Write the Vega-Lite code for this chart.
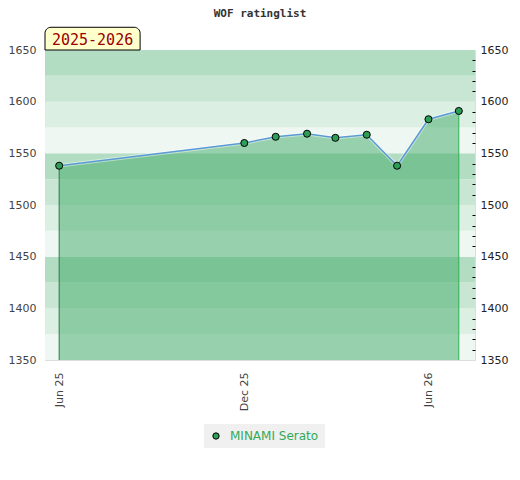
{
  "$schema": "https://vega.github.io/schema/vega-lite/v6.json",
  "autosize": "none",
  "width": 430,
  "height": 310,
  "padding": {"left": 45, "top": 50, "right": 45, "bottom": 120},
  "background": "#ffffff",
  "title": {
    "text": "WOF ratinglist",
    "font": "DejaVu Sans Mono",
    "fontSize": 11,
    "fontWeight": "bold",
    "color": "#333333",
    "anchor": "middle",
    "frame": "group",
    "baseline": "alphabetic",
    "offset": 10,
    "dy": 11
  },
  "config": {
    "view": {"stroke": "#dddddd", "strokeWidth": 1},
    "axis": {"labelFont": "DejaVu Sans", "labelFontSize": 11, "grid": false, "domain": false, "title": null}
  },
  "datasets": {
    "ratings": [
      {"date": "2025-06-01", "rating": 1538, "player": "MINAMI Serato"},
      {"date": "2025-12-01", "rating": 1560, "player": "MINAMI Serato"},
      {"date": "2026-01-01", "rating": 1566, "player": "MINAMI Serato"},
      {"date": "2026-02-01", "rating": 1569, "player": "MINAMI Serato"},
      {"date": "2026-03-01", "rating": 1565, "player": "MINAMI Serato"},
      {"date": "2026-04-01", "rating": 1568, "player": "MINAMI Serato"},
      {"date": "2026-05-01", "rating": 1538, "player": "MINAMI Serato"},
      {"date": "2026-06-01", "rating": 1583, "player": "MINAMI Serato"},
      {"date": "2026-07-01", "rating": 1591, "player": "MINAMI Serato"}
    ],
    "bands": [
      {"lo": 1350, "hi": 1375, "shade": 0},
      {"lo": 1375, "hi": 1400, "shade": 1},
      {"lo": 1400, "hi": 1425, "shade": 2},
      {"lo": 1425, "hi": 1450, "shade": 3},
      {"lo": 1450, "hi": 1475, "shade": 0},
      {"lo": 1475, "hi": 1500, "shade": 1},
      {"lo": 1500, "hi": 1525, "shade": 2},
      {"lo": 1525, "hi": 1550, "shade": 3},
      {"lo": 1550, "hi": 1575, "shade": 0},
      {"lo": 1575, "hi": 1600, "shade": 1},
      {"lo": 1600, "hi": 1625, "shade": 2},
      {"lo": 1625, "hi": 1650, "shade": 3}
    ],
    "season": [
      {"label": "2025-2026"}
    ]
  },
  "layer": [
    {
      "data": {"name": "bands"},
      "mark": {"type": "rect"},
      "encoding": {
        "y": {
          "field": "lo",
          "type": "quantitative",
          "scale": {"domain": [1350, 1650], "zero": false, "nice": false},
          "axis": {
            "orient": "right",
            "values": [1350, 1360, 1370, 1380, 1390, 1400, 1410, 1420, 1430, 1440, 1450, 1460, 1470, 1480, 1490, 1500, 1510, 1520, 1530, 1540, 1550, 1560, 1570, 1580, 1590, 1600, 1610, 1620, 1630, 1640, 1650],
            "format": "d",
            "labelExpr": "datum.value % 50 === 0 ? datum.label : ''",
            "ticks": true,
            "tickSize": -3,
            "tickColor": {"condition": {"test": "datum.value % 50 === 0", "value": "transparent"}, "value": "#000000"},
            "labelColor": "#222222",
            "labelPadding": 8,
            "zindex": 1
          }
        },
        "y2": {"field": "hi"},
        "fill": {
          "field": "shade",
          "type": "ordinal",
          "scale": {"domain": [0, 1, 2, 3], "range": ["#eff7f2", "#dcefe3", "#c9e6d4", "#b3ddc2"]},
          "legend": null
        }
      }
    },
    {
      "layer": [
        {
          "data": {"name": "ratings"},
          "mark": {"type": "area", "color": "#3faa68", "opacity": 0.5},
          "encoding": {
            "x": {
              "field": "date",
              "type": "temporal",
              "scale": {"domain": [{"year": 2025, "month": 5, "date": 18}, {"year": 2026, "month": 7, "date": 17}]},
              "axis": {
                "values": [{"year": 2025, "month": 6, "date": 1}, {"year": 2025, "month": 12, "date": 1}, {"year": 2026, "month": 6, "date": 1}],
                "format": "%b %y",
                "labelAngle": -90,
                "ticks": false,
                "labelPadding": 12,
                "labelColor": "#444444"
              }
            },
            "y": {
              "field": "rating",
              "type": "quantitative",
              "scale": {"domain": [1350, 1650], "zero": false, "nice": false},
              "axis": {
                "orient": "left",
                "values": [1350, 1400, 1450, 1500, 1550, 1600, 1650],
                "format": "d",
                "ticks": false,
                "labelPadding": 9,
                "labelColor": "#444444"
              }
            },
            "y2": {"datum": 1350}
          }
        },
        {
          "data": {"name": "ratings"},
          "transform": [{"filter": {"field": "date", "equal": {"year": 2025, "month": 6, "date": 1}}}],
          "mark": {"type": "rule", "color": "#2a7a45", "strokeWidth": 1},
          "encoding": {
            "x": {"field": "date", "type": "temporal"},
            "y": {"field": "rating", "type": "quantitative"},
            "y2": {"datum": 1350}
          }
        },
        {
          "data": {"name": "ratings"},
          "transform": [{"filter": {"field": "date", "equal": {"year": 2026, "month": 7, "date": 1}}}],
          "mark": {"type": "rule", "color": "#2db34f", "strokeWidth": 1},
          "encoding": {
            "x": {"field": "date", "type": "temporal"},
            "y": {"field": "rating", "type": "quantitative"},
            "y2": {"datum": 1350}
          }
        },
        {
          "data": {"name": "ratings"},
          "mark": {"type": "line", "color": "#ffffff", "opacity": 0.45, "strokeWidth": 3.5},
          "encoding": {
            "x": {"field": "date", "type": "temporal"},
            "y": {"field": "rating", "type": "quantitative"}
          }
        },
        {
          "data": {"name": "ratings"},
          "mark": {"type": "line", "color": "#5b9bd5", "strokeWidth": 1.5},
          "encoding": {
            "x": {"field": "date", "type": "temporal"},
            "y": {"field": "rating", "type": "quantitative"}
          }
        },
        {
          "data": {"name": "ratings"},
          "mark": {"type": "point", "filled": true, "size": 50, "stroke": "#000000", "strokeWidth": 1, "opacity": 1},
          "encoding": {
            "x": {"field": "date", "type": "temporal"},
            "y": {"field": "rating", "type": "quantitative"},
            "color": {
              "field": "player",
              "type": "nominal",
              "scale": {"range": ["#2e9e57"]},
              "legend": {
                "orient": "none",
                "legendX": 159,
                "legendY": 374,
                "title": null,
                "fillColor": "#f0f0f0",
                "padding": 6,
                "labelColor": "#33aa55",
                "labelFont": "DejaVu Sans",
                "labelFontSize": 12,
                "labelOffset": 8,
                "symbolSize": 40,
                "symbolStrokeColor": "#000000",
                "symbolStrokeWidth": 1
              }
            }
          }
        },
        {
          "data": {"name": "season"},
          "mark": {"type": "rect", "fill": "#ffffcc", "stroke": "#000000", "strokeWidth": 1, "cornerRadiusTopLeft": 6, "cornerRadiusTopRight": 6},
          "encoding": {
            "x": {"datum": {"year": 2025, "month": 5, "date": 18}, "type": "temporal"},
            "x2": {"datum": {"year": 2025, "month": 8, "date": 20}},
            "y": {"datum": 1650, "type": "quantitative"},
            "y2": {"datum": 1672}
          }
        },
        {
          "data": {"name": "season"},
          "mark": {"type": "text", "font": "DejaVu Sans Mono", "fontSize": 15, "color": "#990000", "baseline": "middle", "align": "center"},
          "encoding": {
            "x": {"datum": {"year": 2025, "month": 7, "date": 4}, "type": "temporal"},
            "y": {"datum": 1660, "type": "quantitative"},
            "text": {"field": "label"}
          }
        }
      ]
    }
  ],
  "resolve": {"scale": {"y": "independent"}}
}
